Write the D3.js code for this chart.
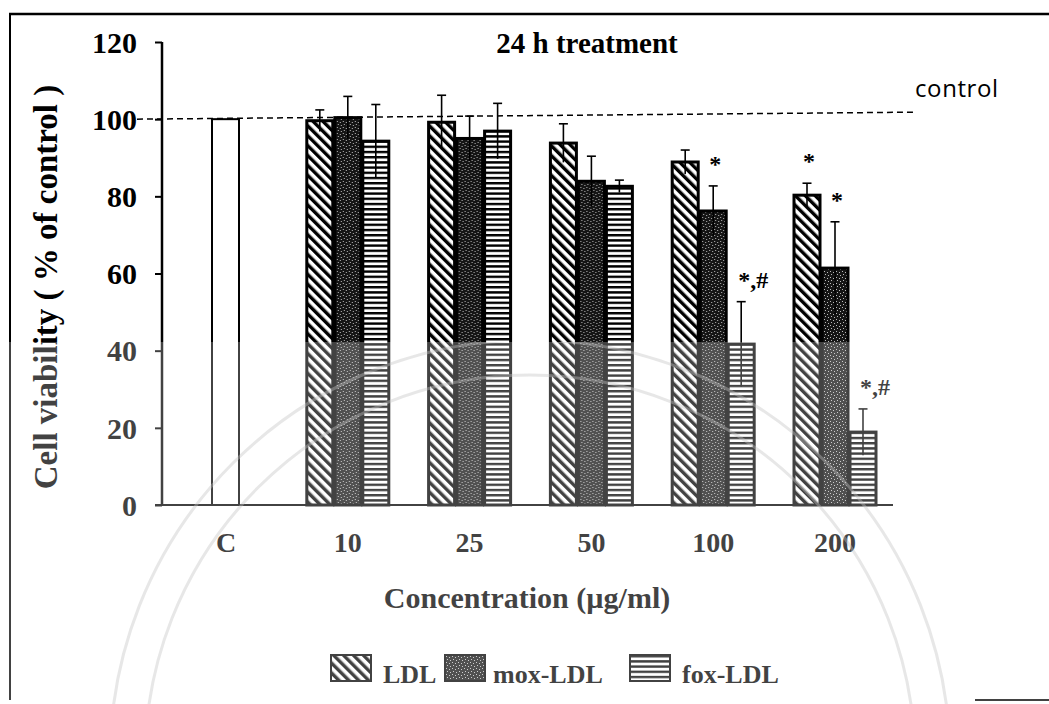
<!DOCTYPE html>
<html>
<head>
<meta charset="utf-8">
<script src="https://cdn.jsdelivr.net/npm/d3@7"></script>
<style>
  body { margin: 0; background: #fff; }
  svg { display: block; }
</style>
</head>
<body>
<svg id="chart" width="1049" height="704"></svg>
<script>
// values
var cats = ["C", "10", "25", "50", "100", "200"];
var series = ["LDL", "mox-LDL", "fox-LDL"];
var controlValue = 100;
var ldl = [99.6, 99.2, 93.8, 88.9, 80.3];
var mox = [100.4, 95.0, 83.9, 76.2, 61.4];
var fox = [94.3, 96.9, 82.6, 41.7, 18.9];
var ldlErr = [2.8, 7.0, 5.0, 3.1, 3.1];
var moxErr = [5.5, 5.8, 6.5, 6.5, 12.0];
var foxErr = [9.5, 7.2, 1.6, 11.0, 6.0];
var yTicks = [0, 20, 40, 60, 80, 100, 120];
var marks = [
  {cat: "100", s: "mox-LDL", text: "*"},
  {cat: "100", s: "fox-LDL", text: "*,#"},
  {cat: "200", s: "LDL", text: "*"},
  {cat: "200", s: "mox-LDL", text: "*"},
  {cat: "200", s: "fox-LDL", text: "*,#"}
];

var svg = d3.select("#chart");
var W = 1049, H = 704;
var serif = "'Liberation Serif', 'Times New Roman', serif";

var x = d3.scalePoint().domain(cats).range([226, 835]);
var xs = d3.scaleBand().domain(series).range([-42, 42]);
var y = d3.scaleLinear().domain([0, 120]).range([505, 42]);

// fill patterns
var defs = svg.append("defs");
var p1 = defs.append("pattern").attr("id", "pLDL").attr("patternUnits", "userSpaceOnUse")
  .attr("width", 7).attr("height", 7).attr("patternTransform", "rotate(-45)");
p1.append("rect").attr("width", 7).attr("height", 7).attr("fill", "#fff");
p1.append("rect").attr("width", 3.4).attr("height", 7).attr("fill", "#000");

var p2 = defs.append("pattern").attr("id", "pMox").attr("patternUnits", "userSpaceOnUse")
  .attr("width", 6).attr("height", 6);
p2.append("rect").attr("width", 6).attr("height", 6).attr("fill", "#151515");
[[1, 1], [4, 2], [2, 4], [5, 5]].forEach(function(d){
  p2.append("rect").attr("x", d[0]).attr("y", d[1]).attr("width", 1).attr("height", 1).attr("fill", "#bbb");
});

var p3 = defs.append("pattern").attr("id", "pFox").attr("patternUnits", "userSpaceOnUse")
  .attr("width", 6).attr("height", 5.2);
p3.append("rect").attr("width", 6).attr("height", 5.2).attr("fill", "#fff");
p3.append("rect").attr("width", 6).attr("height", 2.4).attr("fill", "#000");

var fills = {"LDL": "url(#pLDL)", "mox-LDL": "url(#pMox)", "fox-LDL": "url(#pFox)"};
var vals = {"LDL": ldl, "mox-LDL": mox, "fox-LDL": fox};
var errs = {"LDL": ldlErr, "mox-LDL": moxErr, "fox-LDL": foxErr};

// frame
svg.append("line").attr("x1", 9).attr("x2", W).attr("y1", 14).attr("y2", 14)
  .attr("stroke", "#000").attr("stroke-width", 2.5);
svg.append("line").attr("x1", 10).attr("x2", 10).attr("y1", 14).attr("y2", 700)
  .attr("stroke", "#000").attr("stroke-width", 2);
svg.append("line").attr("x1", 975).attr("x2", W).attr("y1", 700).attr("y2", 700)
  .attr("stroke", "#000").attr("stroke-width", 2);

// axes
var yAxis = svg.append("g").attr("transform", "translate(162,0)")
  .call(d3.axisLeft(y).tickValues(yTicks).tickSize(7).tickPadding(18));
yAxis.select(".domain").attr("stroke-width", 2.5).attr("d", "M0," + y(120) + "V" + y(0));
yAxis.selectAll(".tick line").attr("stroke-width", 2);
yAxis.selectAll("text").attr("font-family", serif).attr("font-weight", "bold")
  .attr("font-size", 30).attr("fill", "#000").attr("dy", "0.34em");

svg.append("line").attr("x1", 155).attr("x2", 893).attr("y1", y(0)).attr("y2", y(0))
  .attr("stroke", "#000").attr("stroke-width", 2);

svg.selectAll(".xlab").data(cats).enter().append("text")
  .attr("x", function(d){ return x(d); }).attr("y", 552)
  .attr("text-anchor", "middle").attr("font-family", serif).attr("font-weight", "bold")
  .attr("font-size", 28).text(function(d){ return d; });

// control bar
svg.append("rect").attr("x", x("C") - 14).attr("width", 27)
  .attr("y", y(controlValue)).attr("height", y(0) - y(controlValue))
  .attr("fill", "#fff").attr("stroke", "#000").attr("stroke-width", 2);

// grouped bars
var groups = svg.selectAll(".grp").data(cats.slice(1)).enter().append("g")
  .attr("transform", function(d){ return "translate(" + x(d) + ",0)"; });

series.forEach(function(s){
  groups.append("rect")
    .attr("x", xs(s) + 1).attr("width", xs.bandwidth() - 2)
    .attr("y", function(d, i){ return y(vals[s][i]); })
    .attr("height", function(d, i){ return y(0) - y(vals[s][i]); })
    .attr("fill", fills[s]).attr("stroke", "#000").attr("stroke-width", 3);
});

series.forEach(function(s){
  var cx = xs(s) + xs.bandwidth() / 2;
  groups.append("line")
    .attr("x1", cx).attr("x2", cx)
    .attr("y1", function(d, i){ return y(vals[s][i] - errs[s][i]); })
    .attr("y2", function(d, i){ return y(vals[s][i] + errs[s][i]); })
    .attr("stroke", "#000").attr("stroke-width", 1.6);
  groups.append("line")
    .attr("x1", cx - 4.5).attr("x2", cx + 4.5)
    .attr("y1", function(d, i){ return y(vals[s][i] + errs[s][i]); })
    .attr("y2", function(d, i){ return y(vals[s][i] + errs[s][i]); })
    .attr("stroke", "#000").attr("stroke-width", 1.6);
});

// significance marks
svg.selectAll(".mark").data(marks).enter().append("text")
  .attr("x", function(d){
    return x(d.cat) + xs(d.s) + xs.bandwidth() / 2 + (d.text.length > 1 ? 12 : 2);
  })
  .attr("y", function(d){
    var i = cats.indexOf(d.cat) - 1;
    return y(vals[d.s][i] + errs[d.s][i]) - 14;
  })
  .attr("text-anchor", "middle").attr("font-family", serif)
  .attr("font-weight", "bold").attr("font-size", 24).text(function(d){ return d.text; });

// control reference line
svg.append("line").attr("x1", 137).attr("x2", 915).attr("y1", y(controlValue)).attr("y2", y(controlValue) - 7)
  .attr("stroke", "#000").attr("stroke-width", 1.5).attr("stroke-dasharray", "6,4");
svg.append("text").attr("x", 915).attr("y", 97).attr("font-family", "'Open Sans', sans-serif")
  .attr("font-size", 24).attr("letter-spacing", 0.6).text("control");

// title
svg.append("text").attr("x", 587).attr("y", 53).attr("text-anchor", "middle")
  .attr("font-family", serif).attr("font-weight", "bold").attr("font-size", 29)
  .text("24 h treatment");

// axis titles
svg.append("text").attr("transform", "translate(57,287) rotate(-90)")
  .attr("text-anchor", "middle").attr("font-family", serif).attr("font-weight", "bold")
  .attr("font-size", 33).text("Cell viability ( % of control )");
svg.append("text").attr("x", 527).attr("y", 608).attr("text-anchor", "middle")
  .attr("font-family", serif).attr("font-weight", "bold").attr("font-size", 30)
  .text("Concentration (\u00b5g/ml)");

// legend
var legX = [331, 445, 630];
var leg = svg.selectAll(".leg").data(series).enter().append("g")
  .attr("transform", function(d, i){ return "translate(" + legX[i] + ",655)"; });
leg.append("rect").attr("width", 40).attr("height", 26)
  .attr("fill", function(d){ return fills[d]; }).attr("stroke", "#000").attr("stroke-width", 2);
leg.append("text").attr("x", function(d, i){ return i == 1 ? 48 : 52; }).attr("y", 28)
  .attr("font-family", serif).attr("font-weight", "bold").attr("font-size", 26)
  .text(function(d){ return d; });

// scanned watermark: faded lower part
var wm = svg.append("g");
wm.append("rect").attr("x", 0).attr("y", 342).attr("width", W).attr("height", H - 342)
  .attr("fill", "#fff").attr("opacity", 0.26);
defs.append("clipPath").attr("id", "clipLow").append("rect")
  .attr("x", 11).attr("y", 342).attr("width", W).attr("height", H - 342);
[420, 385].forEach(function(r){
  wm.append("circle").attr("cx", 530).attr("cy", 760).attr("r", r)
    .attr("fill", "none").attr("stroke", "#c4c4c4").attr("stroke-width", 3).attr("opacity", 0.4)
    .attr("clip-path", "url(#clipLow)");
});
</script>
</body>
</html>
